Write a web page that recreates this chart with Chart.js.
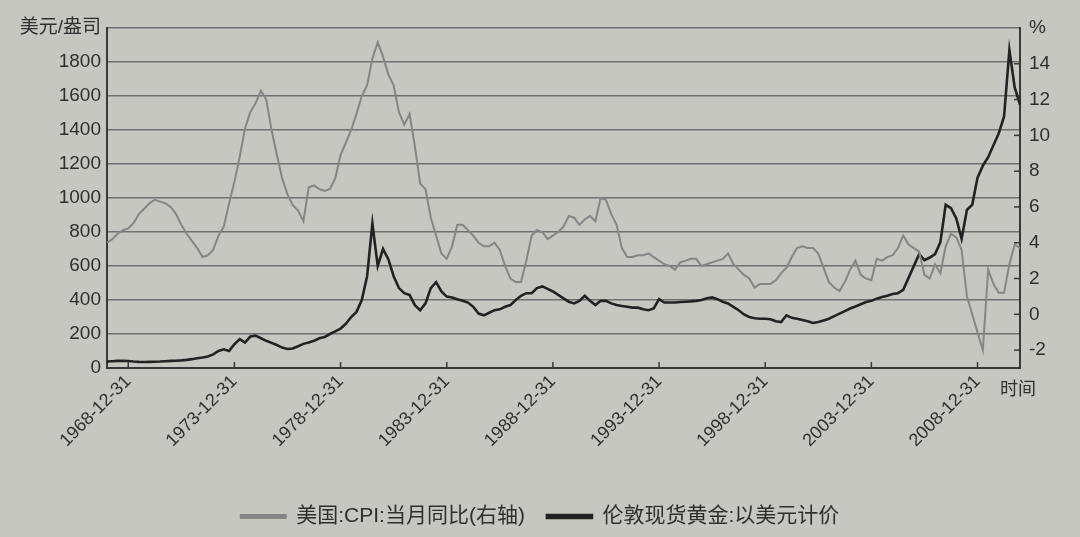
<!DOCTYPE html>
<html><head><meta charset="utf-8">
<script src="https://cdn.jsdelivr.net/npm/chart.js@4.4.0/dist/chart.umd.min.js"></script>
<style>
html,body{margin:0;padding:0;background:#c7c7c2;}
#wrap{width:1080px;height:537px;position:relative;}
</style></head><body>
<div id="wrap"><canvas id="c" width="1080" height="537"></canvas></div>
<script>
const dates = [
'1967-12-31',
'1968-03-31','1968-06-30','1968-09-30','1968-12-31','1969-03-31','1969-06-30','1969-09-30','1969-12-31',
'1970-03-31','1970-06-30','1970-09-30','1970-12-31','1971-03-31','1971-06-30','1971-09-30','1971-12-31',
'1972-03-31','1972-06-30','1972-09-30','1972-12-31','1973-03-31','1973-06-30','1973-09-30','1973-12-31',
'1974-03-31','1974-06-30','1974-09-30','1974-12-31','1975-03-31','1975-06-30','1975-09-30','1975-12-31',
'1976-03-31','1976-06-30','1976-09-30','1976-12-31','1977-03-31','1977-06-30','1977-09-30','1977-12-31',
'1978-03-31','1978-06-30','1978-09-30','1978-12-31','1979-03-31','1979-06-30','1979-09-30','1979-12-31',
'1980-03-31','1980-06-30','1980-09-30','1980-12-31','1981-03-31','1981-06-30','1981-09-30','1981-12-31',
'1982-03-31','1982-06-30','1982-09-30','1982-12-31','1983-03-31','1983-06-30','1983-09-30','1983-12-31',
'1984-03-31','1984-06-30','1984-09-30','1984-12-31','1985-03-31','1985-06-30','1985-09-30','1985-12-31',
'1986-03-31','1986-06-30','1986-09-30','1986-12-31','1987-03-31','1987-06-30','1987-09-30','1987-12-31',
'1988-03-31','1988-06-30','1988-09-30','1988-12-31','1989-03-31','1989-06-30','1989-09-30','1989-12-31',
'1990-03-31','1990-06-30','1990-09-30','1990-12-31','1991-03-31','1991-06-30','1991-09-30','1991-12-31',
'1992-03-31','1992-06-30','1992-09-30','1992-12-31','1993-03-31','1993-06-30','1993-09-30','1993-12-31',
'1994-03-31','1994-06-30','1994-09-30','1994-12-31','1995-03-31','1995-06-30','1995-09-30','1995-12-31',
'1996-03-31','1996-06-30','1996-09-30','1996-12-31','1997-03-31','1997-06-30','1997-09-30','1997-12-31',
'1998-03-31','1998-06-30','1998-09-30','1998-12-31','1999-03-31','1999-06-30','1999-09-30','1999-12-31',
'2000-03-31','2000-06-30','2000-09-30','2000-12-31','2001-03-31','2001-06-30','2001-09-30','2001-12-31',
'2002-03-31','2002-06-30','2002-09-30','2002-12-31','2003-03-31','2003-06-30','2003-09-30','2003-12-31',
'2004-03-31','2004-06-30','2004-09-30','2004-12-31','2005-03-31','2005-06-30','2005-09-30','2005-12-31',
'2006-03-31','2006-06-30','2006-09-30','2006-12-31','2007-03-31','2007-06-30','2007-09-30','2007-12-31',
'2008-03-31','2008-06-30','2008-09-30','2008-12-31','2009-03-31','2009-06-30','2009-09-30','2009-12-31',
'2010-03-31','2010-06-30','2010-09-30','2010-12-31'
];

// 美国:CPI:当月同比 (%), right axis
const cpi = [
4.0,4.2,4.5,4.7,4.8,5.1,5.6,5.9,6.2,6.4,
6.3,6.2,6.0,5.6,5.0,4.5,4.1,3.7,3.2,3.3,
3.6,4.4,4.9,6.2,7.4,8.8,10.4,11.3,11.8,12.5,
12.0,10.3,8.9,7.6,6.7,6.1,5.8,5.2,7.1,7.2,
7.0,6.9,7.0,7.6,8.9,9.6,10.3,11.2,12.2,12.8,
14.3,15.2,14.4,13.4,12.8,11.3,10.6,11.2,9.4,7.3,
7.0,5.4,4.4,3.4,3.1,3.8,5.0,5.0,4.7,4.4,
4.0,3.8,3.8,4.0,3.6,2.7,2.0,1.8,1.8,3.0,
4.4,4.7,4.6,4.2,4.4,4.6,4.9,5.5,5.4,5.0,
5.3,5.5,5.2,6.5,6.4,5.6,5.0,3.7,3.2,3.2,
3.3,3.3,3.4,3.2,3.0,2.8,2.7,2.5,2.9,3.0,
3.1,3.1,2.7,2.8,2.9,3.0,3.1,3.4,2.8,2.5,
2.2,2.0,1.5,1.7,1.7,1.7,1.9,2.3,2.6,3.2,
3.7,3.8,3.7,3.7,3.4,2.6,1.8,1.5,1.3,1.8,
2.5,3.0,2.2,2.0,1.9,3.1,3.0,3.2,3.3,3.7,
4.4,3.9,3.7,3.5,2.2,2.0,2.8,2.3,3.8,4.5,
4.3,3.6,1.0,0.0,-1.0,-2.0,2.5,1.7,1.2,1.2,
2.8,3.9,3.7
];

// 伦敦现货黄金:以美元计价 (美元/盎司), left axis
const gold = [
38,40,42,42,41,38,36,35,36,37,
38,40,42,43,45,48,52,57,62,68,
80,100,110,100,140,170,150,185,190,175,
160,148,135,120,112,115,128,142,150,160,
175,182,200,215,232,260,300,330,400,540,
850,600,700,640,540,470,440,430,370,340,
380,470,505,450,420,415,405,395,385,360,
320,310,325,340,345,360,370,400,425,440,
440,470,480,465,450,430,410,390,380,395,
425,395,370,395,395,380,370,365,360,355,
355,345,340,350,405,385,385,385,388,390,
392,395,400,410,415,405,390,380,360,340,
315,300,293,290,290,287,275,270,310,295,
290,283,275,265,270,280,290,305,320,335,
350,362,375,388,395,408,418,425,435,440,
460,530,600,670,635,650,670,740,960,940,
880,760,930,960,1120,1190,1240,1310,1380,1480,
1870,1650,1550
];

const xTickLabels = ['1968-12-31','1973-12-31','1978-12-31','1983-12-31','1988-12-31','1993-12-31','1998-12-31','2003-12-31','2008-12-31'];
const leftTicks = [0,200,400,600,800,1000,1200,1400,1600,1800,2000];
const rightTicks = [-2,0,2,4,6,8,10,12,14,16];
const seriesNames = ['美国:CPI:当月同比(右轴)','伦敦现货黄金:以美元计价'];
const leftAxisName = '美元/盎司';
const rightAxisName = '%';
const xAxisName = '时间';

const FONT = '"Liberation Sans", "Noto Sans CJK SC", sans-serif';
const TEXT = '#2f2f2f';
const GRID = '#707070';
const AXIS = '#383838';
const CPI_COLOR = '#858585';
const GOLD_COLOR = '#222222';

const extras = {
  id: 'extras',
  afterDraw(chart) {
    const {ctx, chartArea: {right, bottom}, scales: {x, yR}} = chart;
    ctx.save();
    ctx.strokeStyle = AXIS; ctx.lineWidth = 1.5;
    xTickLabels.forEach(l => {
      const px = x.getPixelForValue(dates.indexOf(l));
      ctx.beginPath(); ctx.moveTo(px, bottom); ctx.lineTo(px, bottom - 6); ctx.stroke();
    });
    rightTicks.forEach(v => {
      if (v > 14) return;
      const py = yR.getPixelForValue(v);
      ctx.beginPath(); ctx.moveTo(right, py); ctx.lineTo(right - 6, py); ctx.stroke();
    });
    ctx.fillStyle = TEXT;
    ctx.font = '18px ' + FONT;
    ctx.textAlign = 'left'; ctx.textBaseline = 'middle';
    ctx.fillText(xAxisName, right - 20, bottom + 22);
    ctx.restore();
  }
};

new Chart(document.getElementById('c'), {
  type: 'line',
  data: {
    labels: dates,
    datasets: [
      {label: seriesNames[0], data: cpi, yAxisID: 'yR', borderColor: CPI_COLOR, backgroundColor: CPI_COLOR,
       borderWidth: 2, pointRadius: 0, tension: 0},
      {label: seriesNames[1], data: gold, yAxisID: 'yL', borderColor: GOLD_COLOR, backgroundColor: GOLD_COLOR,
       borderWidth: 2.6, pointRadius: 0, tension: 0}
    ]
  },
  options: {
    responsive: false,
    animation: false,
    layout: {padding: {top: 28, left: 0, right: 0, bottom: 0}},
    plugins: {
      legend: {
        position: 'bottom',
        labels: {
          color: TEXT, font: {family: FONT, size: 21},
          boxWidth: 45, boxHeight: 3, padding: 22
        }
      },
      tooltip: {enabled: false}
    },
    scales: {
      x: {
        type: 'category',
        grid: {display: false, drawTicks: false},
        border: {display: true, color: AXIS, width: 2},
        ticks: {
          autoSkip: false, minRotation: 45, maxRotation: 45, padding: 3,
          color: TEXT, font: {family: FONT, size: 18},
          callback: function(v, i) { return xTickLabels.includes(dates[i]) ? dates[i] : ''; }
        },
        afterFit(s) { s.height = 116; }
      },
      yL: {
        type: 'linear', position: 'left', min: 0, max: 2000,
        afterBuildTicks(s) { s.ticks = leftTicks.map(v => ({value: v})); },
        grid: {color: GRID, lineWidth: 1.6, drawTicks: false},
        border: {display: true, color: AXIS, width: 2},
        ticks: {
          color: TEXT, font: {family: FONT, size: 19}, padding: 6,
          callback: v => v === 2000 ? leftAxisName : v
        },
        afterFit(s) { s.width = 107; }
      },
      yR: {
        type: 'linear', position: 'right', min: -3, max: 16,
        afterBuildTicks(s) { s.ticks = rightTicks.map(v => ({value: v})); },
        grid: {drawOnChartArea: false, drawTicks: false},
        border: {display: true, color: AXIS, width: 2},
        ticks: {
          color: TEXT, font: {family: FONT, size: 19}, padding: 9,
          callback: v => v === 16 ? rightAxisName : v
        },
        afterFit(s) { s.width = 60; }
      }
    }
  },
  plugins: [extras]
});
</script>
</body></html>
